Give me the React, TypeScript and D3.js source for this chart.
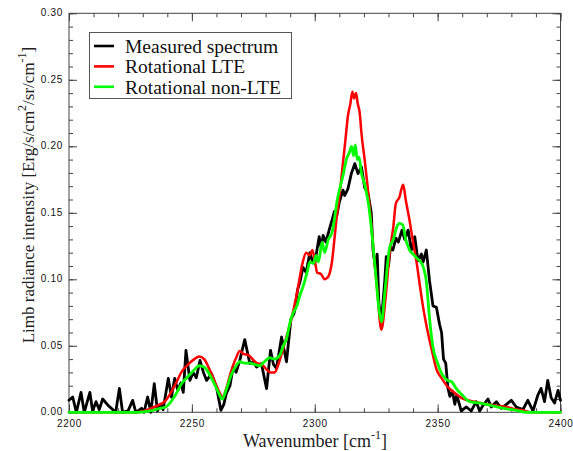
import React, { useEffect, useRef } from 'react';
import * as d3 from 'd3';

// measured limb spectrum (black)
const measuredWn = [
  2200, 2201.5, 2203, 2204.9, 2206.2, 2208.5, 2209.6, 2211, 2212.3, 2213.7, 2216, 2219, 2220.5, 2221.8,
  2224, 2225.9, 2227.2, 2229.5, 2230.5, 2232, 2233.3, 2234.7, 2236, 2237.3, 2238.3, 2240.4, 2241.7, 2243,
  2244.3, 2245.5, 2246.5, 2247.6, 2249.2, 2250.5, 2251.8, 2253.3, 2254.7, 2256, 2258, 2260, 2261.8, 2263,
  2264, 2265.5, 2266.8, 2268, 2269.5, 2271.5, 2273.6, 2275, 2276.3, 2278.3, 2280.4, 2282, 2283.2, 2284.4,
  2286.5, 2288.5, 2290.3, 2291.5, 2292, 2293, 2294, 2295.2, 2296.5, 2298, 2299, 2300, 2301.8, 2302.6,
  2303.4, 2304.5, 2306, 2307.2, 2308, 2309, 2310, 2311.5, 2312.2, 2313.5, 2314.9, 2316.3, 2317.6, 2319,
  2320.3, 2321.7, 2323, 2323.7, 2324.8, 2325.4, 2326.1, 2327.1, 2328.5, 2329.1, 2330, 2330.8, 2331.8, 2333,
  2334, 2335.5, 2336.6, 2338, 2339.3, 2340.7, 2342, 2343.4, 2344.1, 2345.4, 2346.7, 2348.1, 2349.5, 2350.8,
  2351.6, 2352.4, 2353.3, 2354.2, 2355, 2356, 2357, 2357.8, 2359.6, 2361.7, 2363.7, 2365.7, 2367.1, 2368.4,
  2370.5, 2371.8, 2373.9, 2375.9, 2378, 2380, 2382, 2384.7, 2386.7, 2388.8, 2390.8, 2392.1, 2393.5, 2394.8,
  2396.2, 2397.6, 2399, 2400,
];
const measuredVal = [
  0.009, 0.0115, 0.0, 0.015, 0.0, 0.015, 0.001, 0.008, 0.002, 0.010, 0.005, 0.0, 0.018, 0.0,
  0.001, 0.009, 0.0, 0.003, 0.0, 0.0115, 0.0, 0.0215, 0.001, 0.006, 0.002, 0.0255, 0.0115, 0.0255,
  0.0165, 0.022, 0.015, 0.0466, 0.024, 0.030, 0.026, 0.039, 0.030, 0.024, 0.029, 0.019, 0.0015, 0.006,
  0.014, 0.020, 0.034, 0.030, 0.039, 0.0547, 0.0366, 0.038, 0.034, 0.0366, 0.0178, 0.0466, 0.036, 0.033,
  0.0566, 0.038, 0.070, 0.074, 0.078, 0.092, 0.098, 0.109, 0.105, 0.120, 0.114, 0.112, 0.132, 0.124,
  0.133, 0.128, 0.138, 0.1456, 0.151, 0.148, 0.158, 0.167, 0.163, 0.168, 0.1795, 0.187, 0.1795, 0.1845,
  0.169, 0.1645, 0.150, 0.122, 0.107, 0.119, 0.082, 0.068, 0.099, 0.117, 0.110, 0.124, 0.122, 0.131,
  0.128, 0.137, 0.130, 0.137, 0.122, 0.132, 0.114, 0.119, 0.113, 0.122, 0.099, 0.080, 0.079, 0.066,
  0.060, 0.040, 0.037, 0.018, 0.012, 0.016, 0.006, 0.013, 0.001, 0.004, 0.001, 0.008, 0.001, 0.005,
  0.010, 0.004, 0.008, 0.003, 0.006, 0.009, 0.004, 0.002, 0.009, 0.001, 0.013, 0.018, 0.008, 0.024,
  0.011, 0.007, 0.0165, 0.009,
];

// rotational LTE model (red)
const lteWn = [
  2200, 2228, 2232, 2236, 2239.4, 2243, 2246, 2249, 2251, 2253, 2255, 2257, 2259.5, 2261.5, 2262.5, 2264,
  2266, 2268, 2269.5, 2271, 2273, 2276.4, 2278.5, 2280.5, 2282, 2283.7, 2285, 2287, 2289, 2291, 2293, 2295,
  2296.5, 2298, 2299, 2300.2, 2301, 2302.5, 2304, 2305, 2306, 2307, 2308, 2309, 2310.2, 2311.5, 2312.5,
  2313.5, 2314.5, 2315.3, 2316, 2316.8, 2317.5, 2318.3, 2319, 2320.3, 2321.5, 2322.8, 2324, 2325.5, 2327.1,
  2328.5, 2329.5, 2330.5, 2332, 2333, 2334.5, 2335.3, 2336, 2337, 2338.6, 2340, 2341.5, 2342.8, 2344,
  2345.8, 2347.6, 2349.6, 2351.5, 2353.7, 2356, 2358, 2360, 2365, 2370, 2374, 2378, 2381, 2384.6, 2388, 2400,
];
const lteVal = [
  0, 0, 0.002, 0.005, 0.009, 0.020, 0.031, 0.037, 0.040, 0.042, 0.040, 0.033, 0.022, 0.014, 0.011, 0.018,
  0.031, 0.041, 0.046, 0.044, 0.043, 0.037, 0.036, 0.032, 0.030, 0.030, 0.035, 0.047, 0.060, 0.074, 0.092, 0.112,
  0.120, 0.118, 0.122, 0.112, 0.105, 0.104, 0.100, 0.101, 0.104, 0.113, 0.130, 0.148, 0.165, 0.188, 0.205,
  0.223, 0.232, 0.241, 0.236, 0.240, 0.232, 0.225, 0.210, 0.190, 0.170, 0.145, 0.120, 0.090, 0.062,
  0.080, 0.100, 0.120, 0.140, 0.157, 0.162, 0.168, 0.171, 0.160, 0.144, 0.128, 0.112, 0.095, 0.080,
  0.062, 0.047, 0.032, 0.026, 0.020, 0.016, 0.013, 0.0105, 0.008, 0.006, 0.005, 0.004, 0.0025, 0.0015, 0, 0,
];

// rotational non-LTE model (green)
const nonLteWn = [
  2200, 2228, 2233, 2237, 2239.4, 2243, 2246, 2249, 2251, 2253, 2255, 2257, 2259.5, 2261, 2262.3, 2264,
  2266, 2268, 2269.5, 2271.5, 2273.6, 2275.5, 2277.6, 2279.5, 2281.7, 2283.5, 2285.8, 2287, 2288.6, 2290,
  2291.3, 2292.7, 2294, 2295.5, 2297, 2298, 2299.5, 2300.5, 2301.5, 2303, 2304, 2305.5, 2307, 2308, 2309,
  2310, 2311.5, 2313, 2314, 2315, 2315.8, 2316.5, 2317.3, 2318, 2319, 2320.5, 2322, 2323, 2324.5, 2326.4,
  2327.2, 2328.5, 2330.5, 2332, 2333.3, 2334.5, 2335.8, 2337, 2338.6, 2340.5, 2341.5, 2342.7, 2344, 2345.5,
  2346.5, 2348, 2350, 2352, 2354, 2355.7, 2357.5, 2360, 2363, 2367, 2372, 2377, 2382, 2386, 2400,
];
const nonLteVal = [
  0, 0, 0.001, 0.003, 0.004, 0.012, 0.022, 0.028, 0.032, 0.035, 0.034, 0.029, 0.020, 0.014, 0.010, 0.017,
  0.028, 0.035, 0.038, 0.037, 0.037, 0.036, 0.035, 0.038, 0.041, 0.040, 0.043, 0.049, 0.056, 0.068,
  0.075, 0.080, 0.088, 0.096, 0.106, 0.113, 0.112, 0.118, 0.113, 0.128, 0.120, 0.130, 0.135, 0.145, 0.158,
  0.167, 0.178, 0.191, 0.195, 0.200, 0.193, 0.201, 0.190, 0.192, 0.180, 0.170, 0.155, 0.139, 0.110, 0.074,
  0.068, 0.090, 0.124, 0.130, 0.139, 0.142, 0.141, 0.130, 0.122, 0.118, 0.116, 0.114, 0.110, 0.097,
  0.075, 0.050, 0.037, 0.028, 0.024, 0.023, 0.018, 0.013, 0.008, 0.007, 0.005, 0.003, 0.0015, 0, 0,
];

const xTicks = [2200, 2250, 2300, 2350, 2400];
const yTicks = [0, 0.05, 0.1, 0.15, 0.2, 0.25, 0.3];

const legendLabels = ['Measured spectrum', 'Rotational LTE', 'Rotational non-LTE'];
const seriesColors = ['#000000', '#ff0000', '#00ff00'];

const W = 573;
const H = 451;
const serif = '"Liberation Serif", "Times New Roman", Times, serif';
const sans = 'Arial, "Liberation Sans", Helvetica, sans-serif';

export default function App() {
  const ref = useRef<SVGSVGElement>(null);

  useEffect(() => {
    const svg = d3.select(ref.current);
    svg.selectAll('*').remove();

    const x = d3.scaleLinear().domain([2200, 2400]).range([69, 560.5]);
    const y = d3.scaleLinear().domain([0, 0.3]).range([412.3, 13.3]);
    const [x0, x1] = x.range();
    const [y0, y1] = y.range();
    const axisColor = '#444';

    const style = (g: any) => {
      g.select('.domain').remove();
      g.selectAll('line').attr('stroke', axisColor).attr('stroke-width', 1);
      g.attr('font-family', sans).attr('font-size', 10);
      g.selectAll('text').attr('fill', '#111').attr('letter-spacing', 0.7);
    };

    const minorX = d3.range(2200, 2401, 10);
    const minorY = d3.range(0, 31).map((i) => i / 100);

    // bottom
    svg.append('g').attr('transform', `translate(0,${y0})`)
      .call(d3.axisBottom(x).tickValues(minorX).tickSize(-4).tickFormat(() => '')).call(style);
    svg.append('g').attr('transform', `translate(0,${y0})`)
      .call(d3.axisBottom(x).tickValues(xTicks).tickSize(-8).tickPadding(8).tickFormat(d3.format('d'))).call(style);
    // top
    svg.append('g').attr('transform', `translate(0,${y1})`)
      .call(d3.axisTop(x).tickValues(minorX).tickSize(-4).tickFormat(() => '')).call(style);
    svg.append('g').attr('transform', `translate(0,${y1})`)
      .call(d3.axisTop(x).tickValues(xTicks).tickSize(-8).tickFormat(() => '')).call(style);
    // left
    svg.append('g').attr('transform', `translate(${x0},0)`)
      .call(d3.axisLeft(y).tickValues(minorY).tickSize(-4).tickFormat(() => '')).call(style);
    const left = svg.append('g').attr('transform', `translate(${x0},0)`)
      .call(d3.axisLeft(y).tickValues(yTicks).tickSize(-8).tickPadding(6).tickFormat(d3.format('.2f'))).call(style);
    left.selectAll('text').attr('dy', '0.25em');
    // right
    svg.append('g').attr('transform', `translate(${x1},0)`)
      .call(d3.axisRight(y).tickValues(minorY).tickSize(-4).tickFormat(() => '')).call(style);
    svg.append('g').attr('transform', `translate(${x1},0)`)
      .call(d3.axisRight(y).tickValues(yTicks).tickSize(-8).tickFormat(() => '')).call(style);

    // frame
    svg.append('rect')
      .attr('x', x0).attr('y', y1).attr('width', x1 - x0).attr('height', y0 - y1)
      .attr('fill', 'none').attr('stroke', axisColor).attr('stroke-width', 1);

    // lines
    const series = [
      { wn: measuredWn, val: measuredVal, color: seriesColors[0], w: 2.8, curve: d3.curveLinear },
      { wn: lteWn, val: lteVal, color: seriesColors[1], w: 2.5, curve: d3.curveMonotoneX },
      { wn: nonLteWn, val: nonLteVal, color: seriesColors[2], w: 2.8, curve: d3.curveMonotoneX },
    ];
    series.forEach((s) => {
      const line = d3.line<number>()
        .x((d) => x(d))
        .y((_, i) => y(s.val[i]))
        .curve(s.curve);
      svg.append('path')
        .attr('d', line(s.wn))
        .attr('fill', 'none')
        .attr('stroke', s.color)
        .attr('stroke-width', s.w)
        .attr('stroke-linejoin', 'round')
        .attr('stroke-linecap', 'round');
    });

    // legend
    const lg = svg.append('g');
    lg.append('rect')
      .attr('x', 89.5).attr('y', 32.5).attr('width', 202).attr('height', 66)
      .attr('fill', '#fff').attr('stroke', '#555').attr('stroke-width', 1);
    legendLabels.forEach((label, i) => {
      const cy = 46 + i * 20.4;
      lg.append('line')
        .attr('x1', 94).attr('x2', 114).attr('y1', cy).attr('y2', cy)
        .attr('stroke', seriesColors[i]).attr('stroke-width', 2.6);
      lg.append('text')
        .attr('x', 125).attr('y', cy + 6.8)
        .attr('font-family', serif).attr('font-size', 19.5).attr('fill', '#111')
        .text(label);
    });

    // x title
    const xt = svg.append('text')
      .attr('x', 315).attr('y', 446.5).attr('text-anchor', 'middle')
      .attr('font-family', serif).attr('font-size', 18).attr('fill', '#222');
    xt.append('tspan').text('Wavenumber [cm');
    xt.append('tspan').attr('dy', -8).attr('font-size', 12).text('-1');
    xt.append('tspan').attr('dy', 8).text(']');

    // y title
    const yt = svg.append('text')
      .attr('transform', 'translate(34,195) rotate(-90)')
      .attr('text-anchor', 'middle')
      .attr('font-family', serif).attr('font-size', 17).attr('fill', '#222');
    yt.append('tspan').text('Limb radiance intensity [Erg/s/cm');
    yt.append('tspan').attr('dy', -8).attr('font-size', 12).text('2');
    yt.append('tspan').attr('dy', 8).text('/sr/cm');
    yt.append('tspan').attr('dy', -8).attr('font-size', 12).text('-1');
    yt.append('tspan').attr('dy', 8).text(']');
  }, []);

  return (
    <svg
      ref={ref}
      width={W}
      height={H}
      style={{ position: 'absolute', left: 0, top: 0, background: '#fff' }}
    />
  );
}
